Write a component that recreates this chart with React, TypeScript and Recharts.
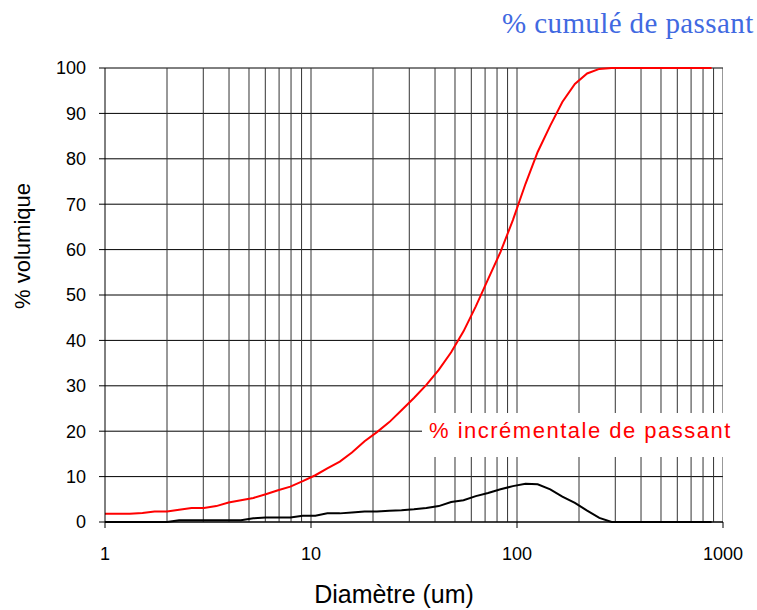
import React from 'react';
import { LineChart, Line, XAxis, YAxis, CartesianGrid, ReferenceLine } from 'recharts';

const diameters = [1, 1.15, 1.32, 1.52, 1.74, 2.0, 2.29, 2.63, 3.02, 3.47, 3.98, 4.57, 5.25, 6.03, 6.92, 7.94, 9.12, 10.5, 12.0, 13.8, 15.8, 18.2, 20.9, 24.0, 27.5, 31.6, 36.3, 41.7, 47.9, 55.0, 63.1, 72.4, 83.2, 95.5, 110, 126, 145, 166, 191, 219, 251, 288, 331, 380, 437, 501, 575, 661, 759, 880];
const cumulative = [1.8, 1.8, 1.8, 2.0, 2.3, 2.3, 2.7, 3.1, 3.1, 3.5, 4.3, 4.8, 5.3, 6.1, 7.0, 7.8, 9.0, 10.3, 11.8, 13.3, 15.3, 17.8, 19.8, 22.0, 24.6, 27.3, 30.2, 33.5, 37.4, 42.0, 47.5, 53.5, 59.5, 66.5, 74.5, 81.5, 87.3, 92.5, 96.5, 98.8, 99.8, 100, 100, 100, 100, 100, 100, 100, 100, 100];
const incremental = [0, 0, 0, 0, 0, 0, 0.4, 0.4, 0.4, 0.4, 0.4, 0.4, 0.8, 1.0, 1.0, 1.0, 1.4, 1.4, 1.9, 1.9, 2.1, 2.3, 2.3, 2.5, 2.6, 2.8, 3.1, 3.5, 4.4, 4.8, 5.7, 6.4, 7.2, 7.9, 8.4, 8.3, 7.2, 5.6, 4.2, 2.5, 0.9, 0, 0, 0, 0, 0, 0, 0, 0, 0];

const xTicks = [1, 10, 100, 1000];
const yTicks = [0, 10, 20, 30, 40, 50, 60, 70, 80, 90, 100];
const minorGrid = [2, 3, 4, 5, 6, 7, 8, 9, 10, 20, 30, 40, 50, 60, 70, 80, 90, 100, 200, 300, 400, 500, 600, 700, 800, 900, 1000];

const titleText = '% cumulé de passant';
const incLabel = '% incrémentale de passant';
const yTitle = '% volumique';
const xTitle = 'Diamètre (um)';

const data = diameters.map((d, i) => ({ d, cum: cumulative[i], inc: incremental[i] }));

const sans = '"Liberation Sans", Arial, sans-serif';

export default function App() {
  return (
    <div style={{ position: 'absolute', left: 0, top: 0, width: 757, height: 610, background: '#fff' }}>
      <LineChart width={757} height={610} data={data} margin={{ top: 68, right: 34, bottom: 0, left: 0 }}>
        <CartesianGrid horizontal={true} vertical={false} stroke="#000" strokeWidth={1} />
        {minorGrid.map((v) => (
          <ReferenceLine key={v} x={v} stroke="#333" strokeWidth={1} ifOverflow="hidden" />
        ))}
        <XAxis
          dataKey="d"
          type="number"
          scale="log"
          domain={[1, 1000]}
          ticks={xTicks}
          allowDataOverflow
          height={88}
          tickSize={6}
          tickMargin={19}
          stroke="#000"
          tick={{ fill: '#000', fontSize: 18, fontFamily: sans }}
        />
        <YAxis
          type="number"
          domain={[0, 100]}
          ticks={yTicks}
          width={105}
          tickSize={6}
          tickMargin={13}
          stroke="#000"
          tick={{ fill: '#000', fontSize: 18, fontFamily: sans }}
        />
        <Line type="linear" dataKey="cum" stroke="#ff0000" strokeWidth={2} dot={false} isAnimationActive={false} />
        <Line type="linear" dataKey="inc" stroke="#000" strokeWidth={2} dot={false} isAnimationActive={false} />
      </LineChart>
      <svg width={757} height={610} style={{ position: 'absolute', left: 0, top: 0, pointerEvents: 'none' }}>
        <text x={502} y={33} fontFamily='"Liberation Serif", "Times New Roman", serif' fontSize={29} letterSpacing={0.4} fill="#4169e1">
          {titleText}
        </text>
        <rect x={422} y={413} width={311} height={44} fill="#fff" />
        <text x={429} y={438} fontFamily={sans} fontSize={22} letterSpacing={1.5} fill="#ff0000">
          {incLabel}
        </text>
        <text x={22} y={246} transform="rotate(-90 22 246)" textAnchor="middle" dominantBaseline="central" fontFamily={sans} fontSize={22} fill="#000">
          {yTitle}
        </text>
        <text x={394} y={603} textAnchor="middle" fontFamily={sans} fontSize={25} fill="#000">
          {xTitle}
        </text>
      </svg>
    </div>
  );
}
